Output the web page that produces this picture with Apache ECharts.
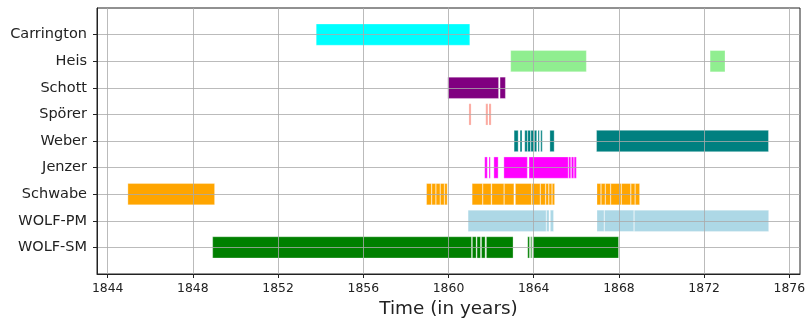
<!DOCTYPE html>
<html>
<head>
<meta charset="utf-8">
<script src="https://cdn.jsdelivr.net/npm/echarts@6/dist/echarts.min.js"></script>
<style>html,body{margin:0;padding:0;background:#fff;}#c{width:806px;height:320px;}</style>
</head>
<body>
<div id="c"></div>
<script>
const categories = ['Carrington','Heis','Schott','Spörer','Weber','Jenzer','Schwabe','WOLF-PM','WOLF-SM'];
const xTicks = [1844,1848,1852,1856,1860,1864,1868,1872,1876];

const carrington = [[1853.79,1861.0]];
const heis = [[1862.92,1866.47],[1872.28,1872.98]];
const schott = [[1859.97,1859.99],[1860.0,1862.35],[1862.42,1862.67]];
const sporer = [[1860.96,1861.06],[1861.75,1861.85],[1861.90,1862.0]];
const weber = [[1863.08,1863.27],[1863.36,1863.45],[1863.58,1863.70],[1863.72,1863.85],[1863.87,1864.01],[1864.03,1864.14],[1864.20,1864.26],[1864.33,1864.40],[1864.76,1864.96],[1866.95,1875.02]];
const jenzer = [[1861.70,1861.82],[1861.90,1861.96],[1862.13,1862.33],[1862.60,1863.70],[1863.78,1865.62],[1865.64,1865.74],[1865.77,1865.88],[1865.90,1866.0]];
const schwabe = [[1844.95,1849.02],[1858.97,1859.2],[1859.22,1859.4],[1859.42,1859.6],[1859.62,1859.8],[1859.82,1859.94],
  [1861.11,1861.6],[1861.62,1862.0],[1862.03,1862.6],[1862.62,1863.07],[1863.14,1863.9],[1863.92,1864.3],[1864.32,1864.55],[1864.57,1864.7],[1864.72,1864.85],[1864.87,1864.98],
  [1866.97,1867.15],[1867.17,1867.35],[1867.37,1867.6],[1867.62,1868.1],[1868.12,1868.55],[1868.57,1868.75],[1868.77,1868.97]];
const wolfPM = [[1860.92,1864.58],[1864.60,1864.72],[1864.78,1864.93],[1866.97,1867.3],[1867.32,1868.7],[1868.72,1875.03]];
const wolfSM = [[1848.93,1861.08],[1861.12,1861.3],[1861.34,1861.5],[1861.55,1861.72],[1861.78,1863.03],[1863.72,1863.8],[1863.86,1863.9],[1863.96,1867.98]];

const observerData = [carrington, heis, schott, sporer, weber, jenzer, schwabe, wolfPM, wolfSM];
const colors = ['#00ffff','#90ee90','#800080','#fa8072','#008080','#ff00ff','#ffa500','#add8e6','#008000'];
const gridColor = 'rgba(170,170,170,0.8)';

function renderItem(params, api) {
  const cat = api.value(0), s = api.value(1), e = api.value(2);
  const p0 = api.coord([s, cat]);
  const p1 = api.coord([e, cat]);
  const h = api.size([0, 1])[1] * 0.8;
  return {
    type: 'rect',
    shape: { x: p0[0], y: p0[1] - h / 2, width: Math.max(p1[0] - p0[0], 1), height: h },
    style: { fill: colors[params.seriesIndex], stroke: 'rgba(255,255,255,0.3)', lineWidth: 1,
      opacity: params.seriesIndex === 3 ? 0.7 : 1 }
  };
}

const series = observerData.map((arr, i) => ({
  type: 'custom',
  name: categories[i],
  renderItem: renderItem,
  encode: { x: [1, 2], y: 0 },
  z: 2,
  data: arr.map(d => [i, d[0], d[1]])
}));
series[0].markLine = {
  silent: true, symbol: 'none', animation: false, z: 5,
  label: { show: false },
  lineStyle: { color: gridColor, width: 1, type: 'solid' },
  emphasis: { disabled: true },
  data: xTicks.map(v => ({ xAxis: v }))
};

const chart = echarts.init(document.getElementById('c'), null, { renderer: 'canvas' });
chart.setOption({
  animation: false,
  backgroundColor: '#fff',
  grid: { left: 97, top: 8, width: 703, height: 266, show: true, borderColor: '#222', borderWidth: 1,
    containLabel: false, outerBoundsMode: 'none' },
  xAxis: {
    type: 'value', min: 1843.5, max: 1876.5, z: 10,
    name: 'Time (in years)', nameLocation: 'middle', nameGap: 26,
    nameTextStyle: { fontSize: 18.4, color: '#222', fontFamily: 'DejaVu Sans' },
    axisLine: { show: true, onZero: false, lineStyle: { color: '#222', width: 1 } },
    axisTick: { show: true, length: 4, customValues: xTicks, lineStyle: { color: '#222' } },
    axisLabel: { customValues: xTicks, fontSize: 12.4, color: '#222', fontFamily: 'DejaVu Sans', margin: 9,
      formatter: v => String(v) },
    splitLine: { show: false }
  },
  yAxis: {
    type: 'value', min: -1, max: 9, interval: 1, inverse: true, z: 10,
    axisLine: { show: true, onZero: false, lineStyle: { color: '#222', width: 1 } },
    axisTick: { show: true, length: 4, customValues: [0,1,2,3,4,5,6,7,8], lineStyle: { color: '#222' } },
    axisLabel: { customValues: [0,1,2,3,4,5,6,7,8], fontSize: 14.5, color: '#222', fontFamily: 'DejaVu Sans', margin: 10,
      formatter: v => categories[v] || '' },
    splitLine: { show: true, lineStyle: { color: gridColor, width: 1 } }
  },
  series: series
});
</script>
</body>
</html>
